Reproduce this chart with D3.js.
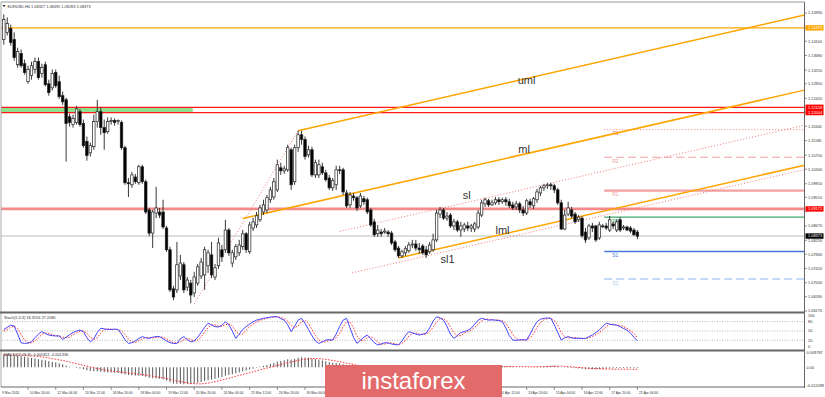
<!DOCTYPE html>
<html><head><meta charset="utf-8">
<script src="https://cdn.jsdelivr.net/npm/d3@7"></script>
<style>
html,body{margin:0;padding:0;background:#fff;overflow:hidden;}
svg{display:block;}
text{font-family:"Liberation Sans",Arial,sans-serif;}
</style></head><body>
<svg id="c" width="825" height="397"></svg>
<script>
// ---------------- DATA ----------------
// EURUSD H4 candles [open, high, low, close], bar 0 = 9 Mar 2020
const candles = [
[1.1415,1.1489,1.1400,1.1474],[1.1436,1.1480,1.1427,1.1462],[1.1447,1.1459,1.1397,1.1406],[1.1415,1.1436,1.1353,1.1362],
[1.1341,1.1391,1.1332,1.1380],[1.1374,1.1386,1.1332,1.1338],[1.1344,1.1356,1.1312,1.1318],[1.1291,1.1338,1.1285,1.1327],
[1.1309,1.1350,1.1297,1.1338],[1.1327,1.1362,1.1315,1.1350],[1.1350,1.1362,1.1297,1.1303],[1.1315,1.1344,1.1303,1.1333],
[1.1341,1.1350,1.1277,1.1282],[1.1285,1.1297,1.1250,1.1259],[1.1273,1.1327,1.1265,1.1315],[1.1318,1.1327,1.1273,1.1279],
[1.1291,1.1309,1.1241,1.1247],[1.1250,1.1262,1.1223,1.1232],[1.1238,1.1244,1.1056,1.1168],[1.1188,1.1197,1.1159,1.1171],
[1.1165,1.1194,1.1156,1.1183],[1.1171,1.1220,1.1165,1.1211],[1.1203,1.1211,1.1159,1.1165],[1.1168,1.1180,1.1097,1.1103],
[1.1115,1.1130,1.1059,1.1074],[1.1082,1.1112,1.1071,1.1103],[1.1100,1.1194,1.1091,1.1174],[1.1174,1.1238,1.1156,1.1203],
[1.1203,1.1215,1.1135,1.1156],[1.1156,1.1180,1.1091,1.1141],[1.1144,1.1186,1.1138,1.1174],[1.1174,1.1186,1.1165,1.1177],
[1.1177,1.1183,1.1162,1.1171],[1.1174,1.1180,1.1165,1.1177],[1.1171,1.1177,1.1091,1.1097],[1.1097,1.1103,1.0988,1.0994],
[1.0994,1.1008,1.0952,1.0991],[1.0988,1.1026,1.0979,1.1017],[1.1011,1.1020,1.0991,1.0997],[1.0994,1.1047,1.0988,1.1041],
[1.1041,1.1047,1.0991,1.0997],[1.0997,1.1003,1.0902,1.0908],[1.0914,1.0920,1.0837,1.0846],[1.0846,1.0914,1.0802,1.0908],
[1.0905,1.0982,1.0890,1.0920],[1.0908,1.0920,1.0890,1.0899],[1.0908,1.0944,1.0858,1.0864],[1.0861,1.0867,1.0791,1.0797],
[1.0797,1.0806,1.0673,1.0679],[1.0682,1.0691,1.0649,1.0658],[1.0679,1.0820,1.0670,1.0753],[1.0720,1.0782,1.0708,1.0758],
[1.0753,1.0761,1.0670,1.0679],[1.0687,1.0717,1.0676,1.0708],[1.0699,1.0708,1.0640,1.0664],[1.0670,1.0732,1.0658,1.0717],
[1.0699,1.0755,1.0691,1.0747],[1.0720,1.0773,1.0711,1.0761],[1.0723,1.0806,1.0679,1.0797],[1.0750,1.0797,1.0729,1.0788],
[1.0782,1.0820,1.0714,1.0723],[1.0717,1.0755,1.0708,1.0744],[1.0750,1.0832,1.0741,1.0817],[1.0797,1.0811,1.0761,1.0776],
[1.0797,1.0885,1.0788,1.0855],[1.0855,1.0861,1.0779,1.0788],[1.0758,1.0797,1.0746,1.0788],[1.0776,1.0814,1.0767,1.0806],
[1.0788,1.0826,1.0779,1.0811],[1.0806,1.0855,1.0797,1.0844],[1.0844,1.0849,1.0788,1.0797],[1.0791,1.0879,1.0785,1.0870],
[1.0861,1.0891,1.0852,1.0879],[1.0870,1.0908,1.0861,1.0897],[1.0885,1.0929,1.0879,1.0920],[1.0908,1.0944,1.0899,1.0929],
[1.0914,1.0958,1.0905,1.0950],[1.0944,1.0982,1.0935,1.0973],[1.0952,1.1008,1.0944,1.0997],[1.0973,1.1062,1.0967,1.1047],
[1.1038,1.1053,1.1017,1.1029],[1.1029,1.1044,1.1020,1.1035],[1.1032,1.1106,1.1026,1.1097],[1.1091,1.1097,1.0973,1.0988],
[1.0997,1.1106,1.0988,1.1097],[1.1097,1.1147,1.1085,1.1135],[1.1135,1.1147,1.1106,1.1121],[1.1121,1.1130,1.1062,1.1071],
[1.1076,1.1103,1.1068,1.1091],[1.1091,1.1100,1.1011,1.1017],[1.1017,1.1062,1.1008,1.1053],[1.1017,1.1062,1.1008,1.1047],
[1.1041,1.1053,1.1017,1.1023],[1.1023,1.1032,1.0997,1.1003],[1.1008,1.1017,1.0973,1.0979],[1.0979,1.1008,1.0970,1.1000],
[1.0988,1.1044,1.0973,1.1032],[1.1032,1.1044,1.1020,1.1031],[1.1032,1.1038,1.0958,1.0967],[1.0964,1.0973,1.0920,1.0926],
[1.0929,1.0967,1.0920,1.0958],[1.0955,1.0964,1.0941,1.0950],[1.0950,1.0955,1.0911,1.0920],[1.0926,1.0964,1.0920,1.0955],
[1.0947,1.0955,1.0929,1.0938],[1.0944,1.0950,1.0902,1.0908],[1.0914,1.0920,1.0864,1.0870],[1.0879,1.0888,1.0835,1.0841],
[1.0844,1.0870,1.0835,1.0855],[1.0849,1.0858,1.0835,1.0844],[1.0849,1.0861,1.0844,1.0852],[1.0849,1.0855,1.0835,1.0844],
[1.0846,1.0852,1.0811,1.0817],[1.0820,1.0826,1.0791,1.0797],[1.0802,1.0808,1.0773,1.0779],[1.0779,1.0797,1.0773,1.0791],
[1.0788,1.0808,1.0779,1.0800],[1.0794,1.0820,1.0788,1.0811],[1.0811,1.0826,1.0802,1.0814],[1.0814,1.0826,1.0794,1.0802],
[1.0802,1.0817,1.0785,1.0797],[1.0808,1.0814,1.0782,1.0788],[1.0797,1.0808,1.0773,1.0782],[1.0791,1.0820,1.0785,1.0811],
[1.0797,1.0844,1.0791,1.0826],[1.0826,1.0914,1.0820,1.0905],[1.0902,1.0923,1.0890,1.0914],[1.0914,1.0920,1.0885,1.0890],
[1.0890,1.0908,1.0882,1.0896],[1.0899,1.0905,1.0861,1.0867],[1.0867,1.0888,1.0855,1.0879],[1.0879,1.0885,1.0849,1.0855],
[1.0855,1.0879,1.0835,1.0867],[1.0858,1.0876,1.0849,1.0870],[1.0867,1.0879,1.0852,1.0861],[1.0861,1.0873,1.0849,1.0867],
[1.0858,1.0879,1.0849,1.0873],[1.0864,1.0914,1.0858,1.0905],[1.0899,1.0944,1.0893,1.0935],[1.0932,1.0950,1.0923,1.0944],
[1.0941,1.0947,1.0923,1.0929],[1.0929,1.0944,1.0926,1.0935],[1.0935,1.0952,1.0929,1.0944],[1.0944,1.0952,1.0929,1.0938],
[1.0938,1.0950,1.0932,1.0944],[1.0944,1.0952,1.0926,1.0938],[1.0938,1.0947,1.0920,1.0926],[1.0929,1.0938,1.0914,1.0920],
[1.0923,1.0941,1.0914,1.0932],[1.0932,1.0938,1.0905,1.0914],[1.0914,1.0926,1.0896,1.0905],[1.0905,1.0947,1.0899,1.0941],
[1.0938,1.0947,1.0920,1.0929],[1.0926,1.0952,1.0917,1.0947],[1.0944,1.0976,1.0935,1.0967],[1.0964,1.0985,1.0955,1.0979],
[1.0979,1.0991,1.0970,1.0985],[1.0985,1.0994,1.0976,1.0988],[1.0988,1.0994,1.0973,1.0985],[1.0985,1.0991,1.0964,1.0973],
[1.0973,1.0979,1.0929,1.0935],[1.0935,1.0944,1.0855,1.0858],[1.0858,1.0914,1.0855,1.0899],[1.0902,1.0938,1.0896,1.0920],
[1.0914,1.0923,1.0890,1.0896],[1.0902,1.0908,1.0873,1.0879],[1.0885,1.0899,1.0879,1.0893],[1.0890,1.0896,1.0832,1.0838],
[1.0849,1.0861,1.0817,1.0826],[1.0832,1.0873,1.0826,1.0867],[1.0867,1.0876,1.0849,1.0861],[1.0867,1.0870,1.0820,1.0826],
[1.0832,1.0879,1.0826,1.0870],[1.0867,1.0873,1.0861,1.0866],[1.0867,1.0876,1.0855,1.0861],[1.0855,1.0896,1.0849,1.0885],
[1.0873,1.0879,1.0858,1.0867],[1.0855,1.0885,1.0849,1.0879],[1.0885,1.0893,1.0849,1.0855],[1.0861,1.0870,1.0855,1.0864],
[1.0864,1.0867,1.0852,1.0855],[1.0861,1.0867,1.0846,1.0852],[1.0855,1.0861,1.0838,1.0841],[1.0849,1.0855,1.0828,1.0837]
];

// Stochastic(5,3,3) main (%K) and signal (%D)
const stochK = [
55,62,69,66,40,12,10,11,15,28,40,48,42,37,35,34,34,23,30,38,
45,50,53,48,28,15,25,45,59,57,55,55,56,55,40,22,10,12,18,26,
32,28,26,30,32,32,25,18,12,10,10,25,32,22,15,18,30,45,62,75,
70,64,63,68,80,70,50,26,40,55,64,72,80,85,88,91,93,95,96,96,
90,85,70,48,65,85,91,75,55,35,18,10,15,21,22,21,40,65,85,91,
60,30,10,20,30,37,25,12,5,8,12,12,8,6,5,18,35,48,44,40,
37,40,43,60,82,96,92,85,65,40,26,35,45,48,52,59,72,85,91,88,
85,86,85,84,80,60,35,21,20,21,22,21,40,62,80,88,91,92,91,70,
45,21,28,32,28,26,27,26,26,32,37,45,53,65,75,72,70,69,64,58,
53,43,30,18.3
];
const stochD = [
50,55,62,66,58,39,21,11,12,18,28,39,43,42,38,35,34,30,29,30,
38,44,49,50,43,30,23,28,43,54,57,56,55,55,50,39,24,15,13,19,
25,29,29,28,29,31,30,25,18,13,11,15,22,26,23,18,21,31,46,61,
69,70,66,65,70,73,67,49,39,40,53,64,72,79,84,88,91,93,95,96,
94,90,82,68,61,66,80,84,74,55,36,21,14,15,19,21,28,42,63,80,
79,60,34,20,20,29,31,25,14,8,8,11,11,9,6,10,19,34,42,44,
40,39,40,48,62,79,90,91,81,63,44,34,35,43,48,53,61,72,83,88,
88,86,85,85,83,75,58,39,25,21,21,21,28,41,61,77,86,90,91,84,
69,45,31,27,29,29,27,26,26,28,32,38,45,54,64,71,72,70,68,64,
58,51,42,27.2
];

// MACD(12,26,9) main (histogram) and signal, in units of 0.001
const macdMain = [
8.6,8.5,8.3,8.1,7.8,7.4,7.0,6.6,6.2,5.8,5.3,4.9,4.6,4.1,3.6,3.2,2.6,1.9,1.1,0.4,
-0.1,-0.4,-0.8,-1.3,-1.9,-2.4,-2.6,-2.7,-3.0,-3.3,-3.4,-3.5,-3.6,-3.8,-4.2,-4.8,-5.2,-5.4,-5.5,-5.6,
-5.8,-6.3,-7.0,-7.3,-7.4,-7.6,-8.1,-8.8,-9.9,-10.8,-11.0,-11.1,-11.3,-11.2,-11.2,-10.8,-10.3,-9.8,-9.1,-8.5,
-8.1,-7.6,-6.9,-6.4,-5.6,-5.1,-4.6,-4.0,-3.4,-2.7,-2.2,-1.5,-0.9,-0.3,0.3,0.9,1.5,2.1,2.8,3.7,
4.2,4.6,5.3,5.1,5.6,6.3,6.6,6.4,6.3,5.7,5.4,5.0,4.5,4.0,3.4,3.0,2.8,2.6,2.0,1.3,
1.0,0.7,0.3,0.1,-0.1,-0.5,-1.1,-1.7,-2.0,-2.2,-2.3,-2.4,-2.7,-3.1,-3.5,-3.6,-3.6,-3.5,-3.4,-3.3,
-3.2,-3.1,-3.0,-2.8,-2.5,-1.8,-1.4,-1.2,-1.0,-1.0,-0.9,-0.9,-0.8,-0.7,-0.6,-0.5,-0.4,-0.1,0.3,0.5,
0.6,0.7,0.8,0.8,0.8,0.7,0.6,0.5,0.4,0.2,0.0,0.1,0.1,0.2,0.4,0.6,0.8,0.9,1.0,1.0,
0.7,0.1,-0.2,-0.3,-0.4,-0.6,-0.7,-1.0,-1.3,-1.3,-1.3,-1.4,-1.3,-1.2,-1.0,-0.8,-0.7,-0.6,-0.5,-0.5,
-0.5,-0.5,-0.5,-0.451
];
const macdSignal = [
8.0,8.1,8.2,8.2,8.2,8.1,8.0,7.8,7.6,7.4,7.1,6.8,6.5,6.1,5.7,5.3,4.9,4.5,4.0,3.5,
2.9,2.4,1.9,1.3,0.8,0.2,-0.3,-0.8,-1.3,-1.7,-2.1,-2.5,-2.8,-3.0,-3.2,-3.5,-3.8,-4.1,-4.3,-4.6,
-4.9,-5.2,-5.5,-5.9,-6.3,-6.7,-7.0,-7.5,-8.0,-8.5,-9.0,-9.5,-10.0,-10.4,-10.7,-10.9,-11.0,-11.0,-10.8,-10.5,
-10.1,-9.6,-9.1,-8.5,-7.9,-7.3,-6.7,-6.0,-5.4,-4.8,-4.2,-3.6,-3.0,-2.3,-1.7,-1.1,-0.6,0.0,0.6,1.2,
1.8,2.4,3.0,3.5,4.0,4.5,5.0,5.3,5.6,5.8,5.8,5.7,5.5,5.2,4.9,4.5,4.1,3.7,3.2,2.8,
2.3,1.8,1.3,0.9,0.5,0.1,-0.3,-0.7,-1.1,-1.5,-1.9,-2.2,-2.5,-2.7,-2.9,-3.1,-3.2,-3.3,-3.4,-3.4,
-3.4,-3.3,-3.2,-3.1,-3.0,-2.8,-2.6,-2.3,-2.0,-1.7,-1.4,-1.2,-1.0,-0.9,-0.8,-0.7,-0.6,-0.5,-0.4,-0.2,
-0.1,0.0,0.1,0.2,0.3,0.4,0.5,0.5,0.5,0.5,0.4,0.4,0.3,0.3,0.3,0.3,0.4,0.5,0.6,0.7,
0.7,0.7,0.6,0.5,0.3,0.1,-0.1,-0.3,-0.5,-0.7,-0.8,-0.9,-1.0,-1.1,-1.2,-1.2,-1.3,-1.3,-1.3,-1.3,
-1.3,-1.3,-1.35,-1.336
];

const priceTickLabels = ["1.06170","1.06590","1.07000","1.07420","1.07840","1.08250","1.08670","1.09090",
 "1.09510","1.09910","1.10340","1.10750","1.11180","1.11600","1.12010","1.12420","1.12850","1.13250",
 "1.13680","1.14100","1.14510","1.14930"];
// time labels visible on the axis (those under the watermark are not shown)
const timeLabels = ["9 Mar 2020","10 Mar 20:00","12 Mar 04:00","13 Mar 12:00","16 Mar 20:00","18 Mar 04:00",
 "19 Mar 12:00","20 Mar 20:00","24 Mar 04:00","25 Mar 12:00","26 Mar 20:00","30 Mar 04:00",
 "10 Apr 12:00","13 Apr 20:00","15 Apr 04:00","16 Apr 12:00","17 Apr 20:00","21 Apr 04:00"];
const timeLabelBars = [0,7,15,23,31,39,47,55,63,71,79,87,143,151,159,167,175,183];

// horizontal levels
const levelPrices = [1.14493, 1.12158, 1.12004, 1.09171, 1.08373];
const levelLabels = ["1.14493","1.12158","1.12004","1.09171","1.08373"];
// daily pivot levels
const pivotNames = ["R3","R2","R1","PP","S1","S2"];
const pivotPrices = [1.1150, 1.1069, 1.0971, 1.0893, 1.0792, 1.0711];
const pivotStartBar = 174;
// pitchfork lines: start bar, start price, common slope (price per bar)
const forkNames = ["uml","ml","lml","sl","sl1"];
const forkStartBar = [85, 69, 114, 97, 100.6];
const forkStartPrice = [1.1147, 1.0889, 1.0773, 1.0851, 1.0729];
const forkSlope = 0.0002325;
const handleBars = [55, 85], handlePrices = [1.0638, 1.1147];
const zoneBars = [0, 54.6]; // green zone between the two red lines

const stochLevels = [80, 50, 20];
const stochAxis = [100, 80, 50, 20, 0];
const macdAxis = [0.009787, 0, -0.012099];
const macdAxisLabels = ["0.009787","0.00","-0.012099"];

// ---------------- DRAW ----------------
const svg = d3.select("#c");
const W = 825, H = 397, AX = 804.5;
const x = d3.scaleLinear().domain([0, 183]).range([3.8, 637.4]);
const y = d3.scaleLinear().domain([1.0617, 1.1493]).range([311, 13]);
const ys = d3.scaleLinear().domain([0, 100]).range([346.5, 315.5]);
const ym = d3.scaleLinear().domain([-0.012099, 0.009787]).range([385.5, 352.5]);
const lastBar = x.invert(AX);
const FS = 3.9, FT = 3.4;

svg.append("rect").attr("width", W).attr("height", H).attr("fill", "#fff");

// clip for main panel
svg.append("clipPath").attr("id","mainClip").append("rect").attr("x",1).attr("y",2).attr("width",AX-1).attr("height",310);
const main = svg.append("g").attr("clip-path","url(#mainClip)");

// green zone
main.append("rect").attr("x", x(zoneBars[0]) - 3).attr("width", x(zoneBars[1]) - x(zoneBars[0]) + 3)
  .attr("y", y(levelPrices[1])).attr("height", y(levelPrices[2]) - y(levelPrices[1])).attr("fill", "#8fe08f");

// horizontal levels
const levelStyle = [
  {c:"#ffa500", w:1.2}, {c:"#ff1a1a", w:1.3}, {c:"#ff1a1a", w:1.3}, {c:"#f48a8a", w:2.6}, {c:"#bdbdbd", w:1}
];
levelPrices.forEach((p, i) => {
  main.append("line").attr("x1", 0).attr("x2", AX).attr("y1", y(p)).attr("y2", y(p))
    .attr("stroke", levelStyle[i].c).attr("stroke-width", levelStyle[i].w);
});

// pivot levels
const pivotStyle = {
  R3:{c:"#f08080", d:"1,2", w:1}, R2:{c:"#f0a0a0", d:"8,4", w:1}, R1:{c:"#f4a0a0", d:null, w:2.4},
  PP:{c:"#3caa6e", d:null, w:1.4}, S1:{c:"#4a78e0", d:null, w:1.4}, S2:{c:"#b4ccf4", d:"8,4", w:1.4}
};
pivotNames.forEach((n, i) => {
  const st = pivotStyle[n];
  const l = main.append("line").attr("x1", x(pivotStartBar) - 2).attr("x2", AX)
    .attr("y1", y(pivotPrices[i])).attr("y2", y(pivotPrices[i]))
    .attr("stroke", st.c).attr("stroke-width", st.w);
  if (st.d) l.attr("stroke-dasharray", st.d);
  main.append("text").attr("x", x(pivotStartBar) + 6).attr("y", y(pivotPrices[i]) + 5.5)
    .attr("font-size", 5).attr("fill", st.c).text(n);
});

// pitchfork lines
const forkLine = (i) => {
  const b0 = forkStartBar[i], p0 = forkStartPrice[i];
  return [[x(b0), y(p0)], [x(lastBar), y(p0 + (lastBar - b0) * forkSlope)]];
};
forkNames.forEach((n, i) => {
  const pts = forkLine(i);
  const dotted = (n === "sl" || n === "sl1");
  const l = main.append("line").attr("x1", pts[0][0]).attr("y1", pts[0][1]).attr("x2", pts[1][0]).attr("y2", pts[1][1])
    .attr("stroke", dotted ? "#f07878" : "#ffa500").attr("stroke-width", dotted ? 1 : 1.5);
  if (dotted) l.attr("stroke-dasharray", "1,2");
});
main.append("line").attr("x1", x(handleBars[0])).attr("y1", y(handlePrices[0]))
  .attr("x2", x(handleBars[1])).attr("y2", y(handlePrices[1]))
  .attr("stroke", "#f07878").attr("stroke-width", 1).attr("stroke-dasharray", "1,2");

// candles
const bw = 2.5;
const cg = main.append("g");
cg.selectAll("line.wick").data(candles).join("line")
  .attr("x1", (d, i) => x(i)).attr("x2", (d, i) => x(i))
  .attr("y1", d => y(d[1])).attr("y2", d => y(d[2]))
  .attr("stroke", "#222").attr("stroke-width", 0.9);
cg.selectAll("rect.body").data(candles).join("rect")
  .attr("x", (d, i) => x(i) - bw / 2).attr("width", bw)
  .attr("y", d => y(Math.max(d[0], d[3])))
  .attr("height", d => Math.max(0.8, Math.abs(y(d[0]) - y(d[3]))))
  .attr("fill", d => d[3] >= d[0] ? "#fff" : "#000")
  .attr("stroke", "#222").attr("stroke-width", 0.7);

// pitchfork labels
const lblPos = {uml:[149, -2, 4], ml:[148, 2, -3], lml:[142, 0, -2], sl:[132, 2, -5], sl1:[127, -3, 11]};
forkNames.forEach((n, i) => {
  const [b, dx, dy] = lblPos[n];
  const p = forkStartPrice[i] + (b - forkStartBar[i]) * forkSlope;
  main.append("text").attr("x", x(b) + dx).attr("y", y(p) + dy)
    .attr("font-size", 11).attr("fill", "#333").text(n);
});

// ---- frame ----
svg.append("line").attr("x1", 1).attr("x2", AX).attr("y1", 2).attr("y2", 2).attr("stroke", "#999").attr("stroke-width", 1);
svg.append("line").attr("x1", 1).attr("x2", 1).attr("y1", 2).attr("y2", 387).attr("stroke", "#aaa").attr("stroke-width", 1);
svg.append("line").attr("x1", AX).attr("x2", AX).attr("y1", 2).attr("y2", 388).attr("stroke", "#666").attr("stroke-width", 1);
[312.5, 350.5].forEach(v => svg.append("line").attr("x1", 0).attr("x2", AX).attr("y1", v).attr("y2", v)
  .attr("stroke", "#666").attr("stroke-width", 2.2));
svg.append("line").attr("x1", 1).attr("x2", AX).attr("y1", 387).attr("y2", 387).attr("stroke", "#666").attr("stroke-width", 1);

// price axis (tick labels hidden behind a level box in the reference are skipped)
priceTickLabels.forEach(t => {
  const v = +t;
  svg.append("line").attr("x1", AX).attr("x2", AX + 2.5).attr("y1", y(v)).attr("y2", y(v)).attr("stroke", "#666").attr("stroke-width", 0.7);
  const covered = levelPrices.some(p => Math.abs(y(p) - y(v)) < 3.5);
  if (!covered) svg.append("text").attr("x", 808).attr("y", y(v) + 1.4).attr("font-size", FS).attr("fill", "#333").text(t);
});
const boxFill = ["#ffa500", "#ff0000", "#ff0000", "#ff0000", "#000000"];
levelPrices.forEach((p, i) => {
  svg.append("rect").attr("x", AX + 1).attr("y", y(p) - 2.7).attr("width", 18).attr("height", 5.4).attr("fill", boxFill[i]);
  svg.append("text").attr("x", 808).attr("y", y(p) + 1.4).attr("font-size", FS).attr("fill", "#fff").text(levelLabels[i]);
});

// title
svg.append("path").attr("d", "M2.5,5 L5.5,5 L4,7.2 Z").attr("fill", "#333");
svg.append("text").attr("x", 7.5).attr("y", 7.5).attr("font-size", FS).attr("fill", "#333")
  .text("EURUSD,H4  1.08327 1.08491 1.08283 1.08373");

// ---- stochastic ----
stochLevels.forEach(v => svg.append("line").attr("x1", 2).attr("x2", AX).attr("y1", ys(v)).attr("y2", ys(v))
  .attr("stroke", "#999").attr("stroke-width", 0.7).attr("stroke-dasharray", "1,1.5"));
svg.append("path").datum(stochD).attr("fill", "none").attr("stroke", "#ff3030").attr("stroke-width", 1)
  .attr("stroke-dasharray", "1.5,1.5")
  .attr("d", d3.line().x((d, i) => x(i)).y(d => ys(d)));
svg.append("path").datum(stochK).attr("fill", "none").attr("stroke", "#4646ff").attr("stroke-width", 1)
  .attr("d", d3.line().x((d, i) => x(i)).y(d => ys(d)));
stochAxis.forEach(v => svg.append("text").attr("x", 808).attr("y", ys(v) + 1.4).attr("font-size", FS).attr("fill", "#333").text(v));
svg.append("text").attr("x", 4).attr("y", 318.5).attr("font-size", FS).attr("fill", "#333").text("Stoch(5,3,3) 18.3156 27.2080");

// ---- MACD ----
svg.append("g").selectAll("line").data(macdMain).join("line")
  .attr("x1", (d, i) => x(i)).attr("x2", (d, i) => x(i))
  .attr("y1", ym(0)).attr("y2", d => ym(d / 1000))
  .attr("stroke", "#555").attr("stroke-width", 1);
svg.append("path").datum(macdSignal).attr("fill", "none").attr("stroke", "#ff3030").attr("stroke-width", 1)
  .attr("stroke-dasharray", "1.5,1.5")
  .attr("d", d3.line().x((d, i) => x(i)).y(d => ym(d / 1000)));
macdAxis.forEach((v, i) => svg.append("text").attr("x", 806.5).attr("y", ym(v) + 1.4).attr("font-size", FS).attr("fill", "#333").text(macdAxisLabels[i]));
svg.append("text").attr("x", 4).attr("y", 355.5).attr("font-size", FS).attr("fill", "#333").text("MACD(12,26,9) -0.000451 -0.001336");

// ---- time axis ----
timeLabels.forEach((t, i) => {
  const b = timeLabelBars[i];
  const xx = i === 0 ? 2 : x(b);
  if (i > 0) svg.append("line").attr("x1", xx).attr("x2", xx).attr("y1", 387).attr("y2", 390).attr("stroke", "#666").attr("stroke-width", 0.7);
  svg.append("text").attr("x", xx + (i === 0 ? 0 : 1.5)).attr("y", 393.5).attr("font-size", FT).attr("fill", "#333").text(t);
});

// ---- watermark ----
svg.append("rect").attr("x", 325).attr("y", 365).attr("width", 177).attr("height", 32).attr("fill", "#e36a6a");
svg.append("text").attr("x", 413.5).attr("y", 389).attr("text-anchor", "middle").attr("font-size", 24)
  .attr("font-family", "'Open Sans', sans-serif").attr("fill", "#fff").text("instaforex");
</script>
</body></html>
